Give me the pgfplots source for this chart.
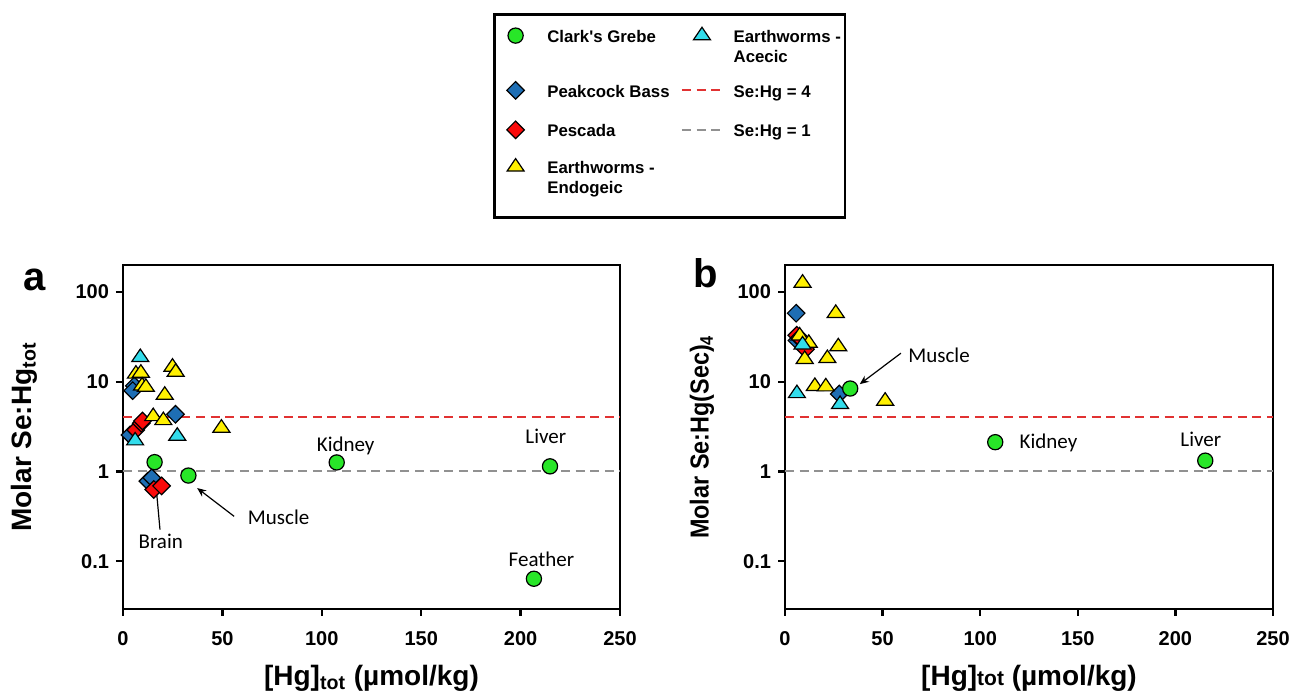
\documentclass[border=0pt]{standalone}
\usepackage{fontspec}
\setmainfont{Liberation Sans}
\newfontfamily\annfont{Carlito}
\usepackage{graphicx}
\usepackage{pgfplots}
\pgfplotsset{compat=1.18}
\usetikzlibrary{arrows.meta}

\definecolor{cGrebe}{RGB}{40,230,40}
\definecolor{cBass}{RGB}{30,110,180}
\definecolor{cPesc}{RGB}{250,10,10}
\definecolor{cEndo}{RGB}{255,240,0}
\definecolor{cAcec}{RGB}{50,220,235}
\definecolor{cRefA}{RGB}{225,50,50}
\definecolor{cRefB}{RGB}{145,145,145}

% strut for legend rows: height above and depth below the baseline
\newcommand\lst[2]{\rule[-#2]{0pt}{\dimexpr#1+#2\relax}}

\pgfplotsset{
  sGrebe/.style={only marks, mark=*, mark size=3.8pt, mark options={fill=cGrebe, draw=black, line width=0.6pt}},
  sBass/.style={only marks, mark=square*, mark size=3.1pt, mark options={rotate=45, fill=cBass, draw=black, line width=0.6pt}},
  sPesc/.style={only marks, mark=square*, mark size=3.1pt, mark options={rotate=45, fill=cPesc, draw=black, line width=0.6pt}},
  sEndo/.style={only marks, mark=triangle*, mark size=4.9pt, mark options={yscale=0.85, fill=cEndo, draw=black, line width=0.6pt}},
  sAcec/.style={only marks, mark=triangle*, mark size=4.9pt, mark options={yscale=0.85, fill=cAcec, draw=black, line width=0.6pt}},
  sRefA/.style={cRefA, line width=1pt, dash pattern=on 4.5pt off 2.8pt},
  sRefB/.style={cRefB, line width=1pt, dash pattern=on 4.5pt off 2.8pt},
}
\tikzset{ann/.style={font=\annfont\fontsize{10.5}{12}\selectfont, inner sep=0pt},
  annarrow/.style={black, line width=0.6pt, -{Stealth[length=4.5pt,width=3.8pt]}}}

\begin{document}
\begin{tikzpicture}
\useasboundingbox (0,0) rectangle (646pt,348.5pt);

% panel a
\begin{axis}[at={(61.5pt,44pt)}, anchor=south west,
  scale only axis, width=248.5pt, height=172pt,
  xmin=0, xmax=250, ymode=log, ymin=0.0293, ymax=200,
  xtick={0,50,100,150,200,250}, xticklabels={0,50,100,150,200,250},
  ytick={0.1,1,10,100}, yticklabels={0.1,1,10,100},
  minor tick style={draw=none},
  tick align=outside, xtick pos=bottom, ytick pos=left,
  major tick length=3.5pt,
  axis line style={line width=1.4pt},
  major tick style={black, line width=1.2pt},
  tick label style={font=\fontsize{10}{12}\selectfont\bfseries},
  xticklabel style={yshift=-4pt},
  xlabel style={at={(axis description cs:0.5,-0.2225)}, anchor=base, font=\fontsize{14}{16}\selectfont\bfseries},
  ylabel style={at={(axis description cs:-0.199,0.5)}, anchor=center, font=\fontsize{14}{16}\selectfont\bfseries},
  clip=false,
  xlabel={[Hg]\textsubscript{tot} (µmol/kg)},
  ylabel={Molar Se:Hg\textsubscript{tot}},
  legend columns=2, legend cell align=left,
  legend image code/.code={\path (0pt,0pt) (20pt,0pt); \draw[mark repeat=2,mark phase=2,#1] plot coordinates {(0pt,0pt) (10pt,0pt) (20pt,0pt)};},
  legend style={at={(axis description cs:0.7445,1.7326)}, anchor=north west,
    draw=black, line width=1.3pt, inner xsep=0pt, inner ysep=0pt, row sep=0pt,
    nodes={inner ysep=0pt},
    font=\fontsize{8.4}{10}\selectfont\bfseries,
    /tikz/every odd column/.append style={column sep=3.2pt},
    /tikz/every even column/.append style={column sep=3.5pt}},
]
\addplot[sRefA, forget plot] coordinates {(0,4) (250,4)};
\addplot[sRefB, forget plot] coordinates {(0,1) (250,1)};
% Peacock bass
\addplot[sBass, forget plot] coordinates {(3.5,2.55) (5.7,9.0) (4.9,7.96) (26.4,4.33) (12.5,0.78) (14.5,0.85)};
% Pescada
\addplot[sPesc, forget plot] coordinates {(6.4,2.9) (9.2,3.45) (9.8,3.65) (15.5,0.63) (19.4,0.69)};
% Earthworms - endogeic
\addplot[sEndo, forget plot] coordinates {(6.5,12.2) (9,12.5) (9.6,9.0) (11.5,8.7) (21,7.1) (24.9,14.6) (26.5,12.8) (15.2,4.1) (20.3,3.7) (49.5,3.05)};
% Earthworms - acecic
\addplot[sAcec, forget plot] coordinates {(8.7,18.7) (6.1,2.2) (27.3,2.48)};
% Clark's grebe
\addplot[sGrebe, forget plot] coordinates {(15.9,1.27) (32.9,0.90) (107.5,1.26) (214.8,1.14) (206.7,0.0637)};

\addlegendimage{sGrebe, yshift=-2.8pt}\addlegendentry{\lst{14.2pt}{2pt}Clark\textquotesingle s Grebe}
\addlegendimage{sAcec, yshift=-2.8pt}\addlegendentry{\lst{14.2pt}{2pt}Earthworms -}
\addlegendimage{empty legend}\addlegendentry{\lst{8.5pt}{2pt}}
\addlegendimage{empty legend}\addlegendentry{\lst{8.5pt}{2pt}Acecic}
\addlegendimage{sBass, yshift=-3.6pt}\addlegendentry{\lst{15.9pt}{2pt}Peakcock Bass}
\addlegendimage{sRefA, yshift=-3.6pt}\addlegendentry{\lst{15.9pt}{2pt}Se:Hg = 4}
\addlegendimage{sPesc, yshift=-4.8pt}\addlegendentry{\lst{18.2pt}{2pt}Pescada}
\addlegendimage{sRefB, yshift=-4.8pt}\addlegendentry{\lst{18.2pt}{2pt}Se:Hg = 1}
\addlegendimage{sEndo, yshift=-4.3pt}\addlegendentry{\lst{16.9pt}{2pt}Earthworms -}
\addlegendimage{empty legend}\addlegendentry{\lst{16.9pt}{2pt}}
\addlegendimage{empty legend}\addlegendentry{\lst{8.5pt}{2pt}Endogeic}
\addlegendimage{empty legend}\addlegendentry{\lst{8.5pt}{2pt}}
\addlegendimage{empty legend}\addlegendentry{\lst{9pt}{0pt}}

\node[ann] at (axis cs:112,1.95) {Kidney};
\node[ann] at (axis cs:212.7,2.49) {Liver};
\node[ann] at (axis cs:210.5,0.104) {Feather};
\node[ann] at (axis cs:78.3,0.311) {Muscle};
\node[ann] at (axis cs:19,0.167) {Brain};
\draw[annarrow] (axis cs:55.9,0.316) -- (axis cs:37.3,0.653);
\draw[annarrow] (axis cs:18.6,0.225) -- (axis cs:16,0.97);
\end{axis}

% panel b
\begin{axis}[at={(392.5pt,44pt)}, anchor=south west,
  scale only axis, width=244pt, height=172pt,
  xmin=0, xmax=250, ymode=log, ymin=0.0293, ymax=200,
  xtick={0,50,100,150,200,250}, xticklabels={0,50,100,150,200,250},
  ytick={0.1,1,10,100}, yticklabels={0.1,1,10,100},
  minor tick style={draw=none},
  tick align=outside, xtick pos=bottom, ytick pos=left,
  major tick length=3.5pt,
  axis line style={line width=1.4pt},
  major tick style={black, line width=1.2pt},
  tick label style={font=\fontsize{10}{12}\selectfont\bfseries},
  xticklabel style={yshift=-4pt},
  xlabel style={at={(axis description cs:0.5,-0.2225)}, anchor=base, font=\fontsize{14}{16}\selectfont\bfseries},
  ylabel style={at={(axis description cs:-0.17,0.5)}, anchor=center, font=\fontsize{13}{15}\selectfont\bfseries},
  clip=false,
  xlabel={[Hg]{\fontsize{10.5}{12}\selectfont tot} (µmol/kg)},
  ylabel={\scalebox{0.9}[1]{Molar Se:Hg(Sec)\textsubscript{4}}},
]
\addplot[sRefA] coordinates {(0,4) (250,4)};
\addplot[sRefB] coordinates {(0,1) (250,1)};
\addplot[sBass] coordinates {(5.7,58) (6.1,28.8) (27.8,7.3)};
\addplot[sPesc] coordinates {(6,33) (7.5,31) (10.5,23)};
\addplot[sEndo] coordinates {(9,126) (26,58) (27.3,24.6) (21.7,18.2) (10.1,17.8) (7.5,32.5) (12.2,26.9) (15.3,8.9) (20.9,8.8) (51.3,6.1)};
\addplot[sAcec] coordinates {(9,25.8) (6.1,7.4) (28.2,5.6)};
\addplot[sGrebe] coordinates {(33.4,8.4) (107.7,2.12) (215.3,1.32)};

\node[ann, anchor=west] at (axis cs:63,19.6) {Muscle};
\draw[annarrow] (axis cs:59.4,20.8) -- (axis cs:38.3,9.4);
\node[ann, anchor=west] at (axis cs:120,2.1) {Kidney};
\node[ann] at (axis cs:213,2.27) {Liver};
\end{axis}

\node[anchor=base west, inner sep=0pt, font=\fontsize{20}{24}\selectfont\bfseries] at (11.5pt,203pt) {a};
\node[anchor=base west, inner sep=0pt, font=\fontsize{20}{24}\selectfont\bfseries] at (346.5pt,204.5pt) {b};
\end{tikzpicture}
\end{document}
